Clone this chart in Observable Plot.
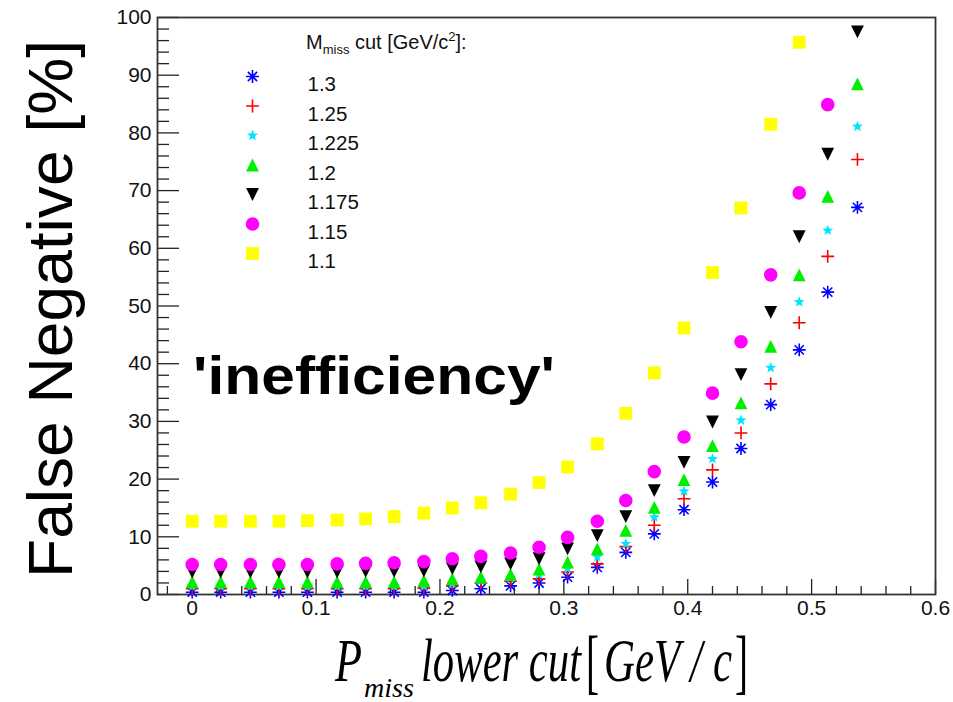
<!DOCTYPE html>
<html><head><meta charset="utf-8">
<script src="https://cdn.jsdelivr.net/npm/d3@7"></script>
<script src="https://cdn.jsdelivr.net/npm/@observablehq/plot@0.6"></script>
<style>body{margin:0;background:#fff}#chart{width:953px;height:702px}</style>
</head><body><div id="chart"></div>
<script>
// P_miss lower cut values [GeV/c]
const pmiss = [0, 0.023, 0.047, 0.07, 0.093, 0.117, 0.14, 0.163, 0.187, 0.21, 0.233, 0.257,
               0.28, 0.303, 0.327, 0.35, 0.373, 0.397, 0.42, 0.443, 0.467, 0.49, 0.513, 0.537];
// M_miss cut labels
const cutLabels = ["1.3", "1.25", "1.225", "1.2", "1.175", "1.15", "1.1"];
// False negative [%] per M_miss cut
const fn_1_3   = [0.4,0.4,0.4,0.4,0.4,0.4,0.4,0.4,0.4,0.7,1.0,1.5,2.0,3.0,4.7,7.3,10.5,14.7,19.5,25.3,32.9,42.4,52.4,67.1];
const fn_1_25  = [1.0,1.0,1.0,1.0,1.0,1.0,1.0,1.0,1.1,1.5,2.0,2.3,2.7,3.9,5.3,8.3,12.0,16.6,21.6,28.0,36.5,47.1,58.6,75.4];
const fn_1_225 = [1.4,1.4,1.4,1.4,1.4,1.4,1.4,1.4,1.5,1.9,2.4,2.9,3.5,4.5,6.5,8.8,13.4,17.9,23.5,30.2,39.3,50.7,63.1,81.1];
const fn_1_2   = [2.2,2.2,2.2,2.2,2.2,2.2,2.2,2.2,2.4,2.7,3.0,3.5,4.4,5.6,7.9,11.1,15.1,19.9,25.8,33.2,43.0,55.4,69.0,88.5];
const fn_1_175 = [3.9,3.9,3.9,3.9,3.9,3.9,4.0,4.0,4.1,4.5,4.8,5.3,6.2,7.9,10.2,13.5,18.0,22.9,29.9,38.1,48.9,62.0,76.3,97.5];
const fn_1_15  = [5.2,5.2,5.2,5.2,5.2,5.3,5.4,5.5,5.7,6.2,6.6,7.2,8.2,9.9,12.7,16.3,21.3,27.3,34.9,43.8,55.4,69.6,84.9,null];
const fn_1_1   = [12.7,12.7,12.7,12.7,12.8,12.9,13.1,13.5,14.1,15.0,15.9,17.4,19.4,22.1,26.1,31.4,38.4,46.2,55.8,67.0,81.5,95.7,null,null];
// tick labels
const xTicks = [0, 0.1, 0.2, 0.3, 0.4, 0.5, 0.6];
const yTicks = [0, 10, 20, 30, 40, 50, 60, 70, 80, 90, 100];

const seriesValues = [fn_1_3, fn_1_25, fn_1_225, fn_1_2, fn_1_175, fn_1_15, fn_1_1];
const seriesColors = ["#0000ff", "#ff0000", "#00e5ff", "#00ee00", "#000000", "#ff00ff", "#ffff00"];

// marker symbols (ROOT style)
const sym = {
  asterisk: {draw(c, s){const h=Math.sqrt(s/Math.PI), d=h*0.72;
    c.moveTo(-h,0);c.lineTo(h,0);c.moveTo(0,-h);c.lineTo(0,h);
    c.moveTo(-d,-d);c.lineTo(d,d);c.moveTo(-d,d);c.lineTo(d,-d);}},
  plus: {draw(c, s){const h=Math.sqrt(s/Math.PI);
    c.moveTo(-h,0);c.lineTo(h,0);c.moveTo(0,-h);c.lineTo(0,h);}},
  star: {draw(c, s){const R=Math.sqrt(s/Math.PI)*0.9, r=R*0.42;
    for(let k=0;k<10;k++){const a=-Math.PI/2+k*Math.PI/5, rr=k%2?r:R;
      const px=rr*Math.cos(a), py=rr*Math.sin(a); k?c.lineTo(px,py):c.moveTo(px,py);} c.closePath();}},
  triUp: {draw(c, s){const h=Math.sqrt(s/Math.PI); c.moveTo(0,-h);c.lineTo(h,h);c.lineTo(-h,h);c.closePath();}},
  triDown: {draw(c, s){const h=Math.sqrt(s/Math.PI); c.moveTo(0,h);c.lineTo(h,-h);c.lineTo(-h,-h);c.closePath();}},
  circle: {draw(c, s){const h=Math.sqrt(s/Math.PI)+0.4; c.moveTo(h,0);c.arc(0,0,h,0,2*Math.PI);}},
  square: {draw(c, s){const h=Math.sqrt(s/Math.PI); c.rect(-h,-h,2*h,2*h);}}
};
const seriesSymbols = [sym.asterisk, sym.plus, sym.star, sym.triUp, sym.triDown, sym.circle, sym.square];
const strokeOnly = [true, true, false, false, false, false, false];

const W = 953, H = 702, mL = 157, mR = 18, mT = 17, mB = 108;
const frameW = W - mL - mR, frameH = H - mT - mB;

const xMinor = d3.range(-1, 31).map(i => i * 0.02).filter(v => Math.abs(v*10 - Math.round(v*10)) > 1e-6);
const yMinor = d3.range(0, 101, 2).filter(v => v % 10 !== 0);

function styleOf(i) {
  return strokeOnly[i]
    ? {stroke: seriesColors[i], fill: "none", strokeWidth: 1.6}
    : {fill: seriesColors[i], stroke: "none"};
}

const dotMarks = seriesValues.map((vals, i) => {
  const data = pmiss.map((x, j) => ({x, y: vals[j]})).filter(d => d.y != null && d.y <= 100);
  return Plot.dot(data, {x: "x", y: "y", r: 6.4, symbol: seriesSymbols[i], ...styleOf(i)});
});

const legendMarks = [];
cutLabels.forEach((lab, i) => {
  const dy = 76 - mT + i * 29.5;
  legendMarks.push(Plot.dot([lab], {frameAnchor: "top-left", dx: 95, dy, r: 6.4, symbol: seriesSymbols[i], ...styleOf(i)}));
  legendMarks.push(Plot.text([lab], {frameAnchor: "top-left", dx: 150, dy, text: d => d, textAnchor: "start", fontSize: 20.5, fill: "#111"}));
});

const plot = Plot.plot({
  width: W, height: H, marginLeft: mL, marginRight: mR, marginTop: mT, marginBottom: mB,
  x: {domain: [-0.028, 0.6]},
  y: {domain: [0, 100]},
  style: {fontFamily: "'Liberation Sans', Arial, sans-serif", background: "white", color: "#111"},
  marks: [
    Plot.tickX(xMinor, {x: d => d, insetTop: frameH - 8, stroke: "#222", strokeWidth: 1.3}),
    Plot.tickX(xTicks, {x: d => d, insetTop: frameH - 15, stroke: "#222", strokeWidth: 1.3}),
    Plot.tickY(yMinor, {y: d => d, insetRight: frameW - 12, stroke: "#222", strokeWidth: 1.3}),
    Plot.tickY(yTicks, {y: d => d, insetRight: frameW - 22, stroke: "#222", strokeWidth: 1.3}),
    Plot.axisX(xTicks, {tickSize: 0, tickPadding: 6, fontSize: 21, label: null, tickFormat: d => d === 0 ? "0" : d3.format(".1f")(d)}),
    Plot.axisY(yTicks, {tickSize: 0, tickPadding: 6, fontSize: 21, label: null}),
    Plot.frame({stroke: "#333", strokeWidth: 1.8}),
    ...dotMarks,
    ...legendMarks
  ]
});
document.getElementById("chart").appendChild(plot);

const svg = d3.select(plot);
// Y axis title
svg.append("text")
  .attr("transform", "translate(72,309) rotate(-90)")
  .attr("text-anchor", "middle")
  .attr("font-family", "'Liberation Sans', Arial, sans-serif")
  .attr("font-size", 63)
  .attr("textLength", 538).attr("lengthAdjust", "spacingAndGlyphs")
  .attr("fill", "#000")
  .text("False Negative [%]");

// X axis title pieces
const serif = "'Liberation Serif', 'DejaVu Serif', serif";
function piece(t, x, y, size, len, italic = true) {
  svg.append("text").attr("x", x).attr("y", y).attr("text-anchor", "start")
    .attr("font-family", serif).attr("font-style", italic ? "italic" : "normal")
    .attr("font-size", size).attr("textLength", len).attr("lengthAdjust", "spacingAndGlyphs")
    .attr("fill", "#000").text(t);
}
piece("P", 335, 681, 62, 27);
piece("miss", 364, 697, 27, 50);
piece("lower cut", 421, 681, 62, 160);
piece("[", 586, 685, 72, 13, false);
piece("GeV / c", 604, 681, 62, 128);
piece("]", 735, 685, 72, 13, false);

// annotation
svg.append("text").attr("x", 193).attr("y", 394).attr("text-anchor", "start")
  .attr("font-family", "'Liberation Sans', Arial, sans-serif").attr("font-weight", "bold")
  .attr("font-size", 54).attr("textLength", 362).attr("lengthAdjust", "spacingAndGlyphs")
  .attr("fill", "#000").text("'inefficiency'");

// legend title
const lt = svg.append("text").attr("x", 306).attr("y", 49).attr("text-anchor", "start")
  .attr("font-family", "'Liberation Sans', Arial, sans-serif").attr("font-size", 20).attr("fill", "#111");
lt.append("tspan").text("M");
lt.append("tspan").attr("font-size", 13).attr("dy", 5).text("miss");
lt.append("tspan").attr("dy", -5).text(" cut [GeV/c");
lt.append("tspan").attr("font-size", 13).attr("dy", -8).text("2");
lt.append("tspan").attr("dy", 8).text("]:");
</script>
</body></html>
